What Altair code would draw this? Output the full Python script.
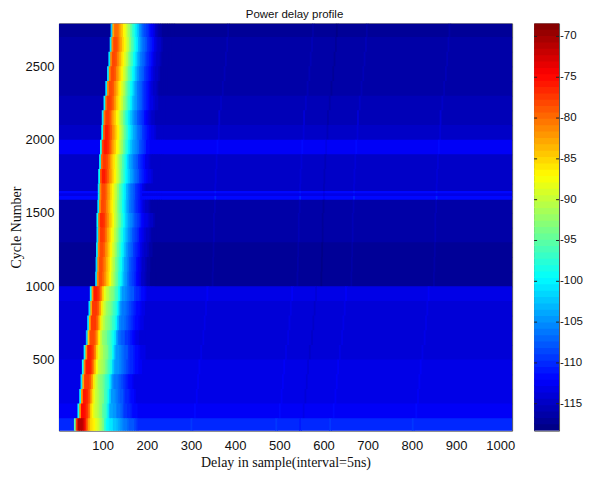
import altair as alt
import numpy as np
import pandas as pd

# horizontal bands of the picture: cycle limits, first arriving sample, noise floor (dB), level shift (dB)
row_lo = [2700,2600,2500,2400,2300,2200,2100,2000,1900,1800,1700,1650,1635,1615,1590,1500,1400,1300,1200,1100,1000,900,800,700,600,500,400,300,200,100,15]
row_hi = [2793,2700,2600,2500,2400,2300,2200,2100,2000,1900,1800,1700,1650,1635,1615,1590,1500,1400,1300,1200,1100,1000,900,800,700,600,500,400,300,200,100]
onset  = [118,116,113,110,106,102,98,97,94,92,90,89,89,89,89,88,86,86,85,84,83,71,68,65,62,57,53,50,47,43,35]
floor  = [-116.8,-116.4,-116.4,-116.3,-116.3,-115.3,-115.2,-114.8,-112.5,-114.5,-114.7,-114.5,-112,-113.6,-111.3,-116,-116.5,-116.5,-117,-117.2,-117.2,-113.5,-113.8,-114,-114.3,-114,-113.5,-113.3,-113.5,-112.8,-110.3]
shift  = [-2.5,-1,-1,-1,-1,0,-0.5,1,1.5,0,1,-1,-1,-1,-1,-1,0.5,-0.5,-1,-1.5,-1.5,0,-1,-1,-2,0,0.5,-1,0,1,5]

# level just after the first arrival, one entry per 4 samples
far_profile  = [-100,-80,-77,-77,-78,-80,-82,-84,-86,-88,-90,-92,-94,-96,-98,-100,-102,-103.5,-105,-106,-107,-108,-109,-110,-111,-112,-113,-113.5,-114,-114.5,-115,-115.5,-116,-116.5,-117,-117]
near_profile = [-100,-82,-76,-76,-76.5,-78,-81,-85,-88,-90,-91,-92,-93,-94,-96,-97,-99,-102,-104.5,-105,-105.5,-106,-107,-107.5,-108,-109,-110,-110.5,-111,-111.5,-112,-112.5,-113,-113,-113.5,-114]
cell = 4

# faint later echoes: sample distance from first arrival, level change (dB)
echo_pos = [264,456,510,578,765]
echo_amp = [0.8,0.8,-0.8,0.8,0.8]
echo_wid = 4

x_min, x_max = 1, 1027
y_min, y_max = 15, 2793
c_min, c_max = -118.3, -68.4
bar_ticks = [-70,-75,-80,-85,-90,-95,-100,-105,-110,-115]
bar_labels = ["-70","-75","-80","-85","-90","-95","-100","-105","-110","-115"]
x_ticks = list(range(100,1001,100))
y_ticks = [500,1000,1500,2000,2500]
n_levels = 64
x_lap, y_lap = 2, 8   # each cell runs slightly under the next one so that no seams show

def jet(i):
    t = (i + 0.5) / n_levels
    r = np.clip(min(4*t-1.5, -4*t+4.5), 0, 1)
    g = np.clip(min(4*t-0.5, -4*t+3.5), 0, 1)
    b = np.clip(min(4*t+0.5, -4*t+2.5), 0, 1)
    return "#%02x%02x%02x" % (int(r*255), int(g*255), int(b*255))
jet_colors = [jet(i) for i in range(n_levels)]

cells = []
for lo, hi, on, fl, sh in zip(row_lo, row_hi, onset, floor, shift):
    def add(a, b, v):
        a, b = max(a, x_min), min(b, x_max)
        if b > a:
            cells.append(dict(x=a, x2=b + x_lap, y=lo - y_lap, y2=hi, v=v))
    add(x_min, on, fl)
    prof = near_profile if lo < 1000 else far_profile
    pos = on
    for p in prof:
        add(pos, pos+cell, max(fl, p+sh))
        pos += cell
    for ep, ea in zip(echo_pos, echo_amp):
        add(pos, on+ep, fl)
        add(on+ep, on+ep+echo_wid, fl+ea)
        pos = on+ep+echo_wid
    add(pos, x_max, fl)
df = pd.DataFrame(cells)

color_scale = alt.Scale(type="quantize", domain=[c_min, c_max], range=jet_colors)

heat = alt.Chart(df).mark_rect(clip=True, opacity=1).encode(
    x=alt.X("x:Q", scale=alt.Scale(domain=[x_min, x_max], nice=False, zero=False),
            axis=alt.Axis(values=x_ticks, format="d", title="Delay in sample(interval=5ns)", grid=False, ticks=False,
                          labelFont="Liberation Sans", labelFontSize=13, labelColor="#111", labelPadding=9,
                          titleFont="Liberation Serif", titleFontSize=14, titleFontWeight="normal", titleColor="#111",
                          titlePadding=3, domain=False, labelFlush=False)),
    x2="x2:Q",
    y=alt.Y("y:Q", scale=alt.Scale(domain=[y_min, y_max], nice=False, zero=False),
            axis=alt.Axis(values=y_ticks, format="d", title="Cycle Number", grid=False, ticks=False,
                          labelFont="Liberation Sans", labelFontSize=13, labelColor="#111", labelPadding=5,
                          titleFont="Liberation Serif", titleFontSize=14, titleFontWeight="normal", titleColor="#111",
                          titlePadding=2, domain=False)),
    y2="y2:Q",
    color=alt.Color("v:Q", scale=color_scale, legend=None),
).properties(width=454, height=408, title=alt.TitleParams(
    "Power delay profile", font="Liberation Sans", fontSize=11.5, fontWeight="normal", color="#111", offset=3, dx=9))

step = (c_max - c_min) / n_levels
bar_df = pd.DataFrame({"lo": [c_min + i*step for i in range(n_levels)],
                       "hi": [c_min + (i+1)*step + 0.15 for i in range(n_levels)]})
bar_df["mid"] = bar_df.lo + step / 2
bar_scale = alt.Scale(domain=[c_min, c_max], nice=False, zero=False)
bar_rect = alt.Chart(bar_df).mark_rect(clip=True, opacity=1).encode(
    x=alt.value(0), x2=alt.value(25), y=alt.Y("lo:Q", scale=bar_scale, axis=None), y2="hi:Q",
    color=alt.Color("mid:Q", scale=color_scale, legend=None))
tick_df = pd.DataFrame({"t": bar_ticks, "label": bar_labels})
tick_y = alt.Y("t:Q", scale=bar_scale, axis=None)
tick_l = alt.Chart(tick_df).mark_rule(color="#222", strokeWidth=1).encode(x=alt.value(0), x2=alt.value(3), y=tick_y)
tick_r = alt.Chart(tick_df).mark_rule(color="#222", strokeWidth=1).encode(x=alt.value(22), x2=alt.value(25), y=tick_y)
tick_t = alt.Chart(tick_df).mark_text(align="left", baseline="middle", font="Liberation Sans", fontSize=11.5, color="#111").encode(
    x=alt.value(26), y=tick_y, text="label:N")
bar = alt.layer(bar_rect, tick_l, tick_r, tick_t).properties(width=25, height=408)

chart = alt.hconcat(heat, bar, spacing=17).properties(padding={"left": 0, "top": 0, "right": 0, "bottom": 0}).configure_view(
    stroke="#555", strokeWidth=1)

chart.save("out.html", embed_options={"renderer": "svg", "actions": False})
